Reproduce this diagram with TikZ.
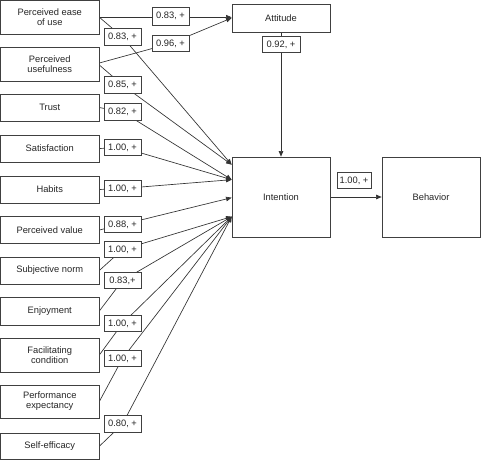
\documentclass[tikz,border=0pt]{standalone}
\usepackage{fontspec}
\setmainfont{Liberation Sans}
\usetikzlibrary{arrows.meta,calc}
\pgfdeclarelayer{background}
\pgfsetlayers{background,main}
\begin{document}
\begin{tikzpicture}[x=0.75pt,y=-0.75pt,
  box/.style={draw=black!75, fill=white, line width=0.5pt, inner sep=0pt, align=center,
    text=black!85, font=\fontsize{7}{7.6}\selectfont},
  src/.style={box, minimum width=98.5*0.75pt},
  lab/.style={box, minimum width=37*0.75pt, minimum height=16.5*0.75pt},
  conn/.style={draw=black!80, line width=0.5pt},
  arr/.style={conn, -{Triangle[length=4.2pt,width=3.4pt]}}
]
\useasboundingbox (0,0) rectangle (481,460);
% left column
\node[src, minimum height=33.5*0.75pt] (peou) at (49.75,17.25) {Perceived ease\\of use};
\node[src, minimum height=34*0.75pt] (pu) at (49.75,64) {Perceived\\usefulness};
\node[src, minimum height=27*0.75pt] (trust) at (49.75,107.5) {Trust};
\node[src, minimum height=27*0.75pt] (sat) at (49.75,148.5) {Satisfaction};
\node[src, minimum height=27*0.75pt] (hab) at (49.75,189.5) {Habits};
\node[src, minimum height=27*0.75pt] (pv) at (49.75,230) {Perceived value};
\node[src, minimum height=27*0.75pt] (sn) at (49.75,270.5) {Subjective norm};
\node[src, minimum height=28*0.75pt] (enj) at (49.75,311) {Enjoyment};
\node[src, minimum height=34*0.75pt] (fc) at (49.75,355) {Facilitating\\condition};
\node[src, minimum height=33*0.75pt] (pe) at (49.75,401.5) {Performance\\expectancy};
\node[src, minimum height=26.5*0.75pt] (se) at (49.75,446.25) {Self-efficacy};
% right boxes
\node[box, minimum width=98*0.75pt, minimum height=28*0.75pt] (att) at (281,18) {Attitude};
\node[box, minimum width=98*0.75pt, minimum height=80*0.75pt] (int) at (281,197) {Intention};
\node[box, minimum width=98*0.75pt, minimum height=80*0.75pt] (beh) at (431,197) {Behavior};
% labels
\node[lab, minimum height=18*0.75pt] (a1) at (170.5,16) {0.83, +};
\node[lab] (a2) at (170.5,43.5) {0.96, +};
\node[lab] (l1) at (122.5,37) {0.83, +};
\node[lab] (l2) at (122.5,85) {0.85, +};
\node[lab] (l3) at (122.5,112) {0.82, +};
\node[lab] (l4) at (122.5,147.5) {1.00, +};
\node[lab] (l5) at (122.5,188.5) {1.00, +};
\node[lab] (l6) at (122.5,224.5) {0.88, +};
\node[lab] (l7) at (122.5,249.5) {1.00, +};
\node[lab] (l8) at (122.5,280.5) {0.83,+};
\node[lab] (l9) at (122.5,323.5) {1.00, +};
\node[lab] (l10) at (122.5,358.5) {1.00, +};
\node[lab] (l11) at (122.5,424) {0.80, +};
\node[lab, minimum width=38*0.75pt] (ai) at (281,44.5) {0.92, +};
\node[lab, minimum width=34*0.75pt] (ib) at (354,180.5) {1.00, +};
% entry points on Intention
\coordinate (i1) at ($(int.north west)+(0,8)$);
\coordinate (i2) at ($(int.north west)+(0,23)$);
\coordinate (i3) at ($(int.north west)+(0,41)$);
\coordinate (i4) at ($(int.north west)+(0,60)$);
\begin{pgfonlayer}{background}
\draw[arr] (peou.east) -- (peou.east -| att.west);
\draw[arr] ([yshift=0.75pt]pu.east) -- (a2.center) -- (att.west);
\draw[arr] (peou.east) -- (l1.center) -- (i1);
\draw[arr] ([yshift=-0.75pt]pu.east) -- (l2.center) -- (i1);
\draw[arr] (trust.east) -- (l3.center) -- (i2);
\draw[arr] (sat.east) -- (l4.center) -- (i2);
\draw[arr] (hab.east) -- (l5.center) -- (i2);
\draw[arr] (pv.east) -- (l6.center) -- (i3);
\draw[arr] (sn.east) -- (l7.center) -- (i4);
\draw[arr] (enj.east) -- (l8.center) -- (i4);
\draw[arr] (fc.east) -- (l9.center) -- (i4);
\draw[arr] (pe.east) -- (l10.center) -- (i4);
\draw[arr] (se.east) -- (l11.center) -- (i4);
\draw[arr] (att.south) -- (int.north);
\draw[arr] (int.east) -- (beh.west);
\end{pgfonlayer}
\end{tikzpicture}
\end{document}
